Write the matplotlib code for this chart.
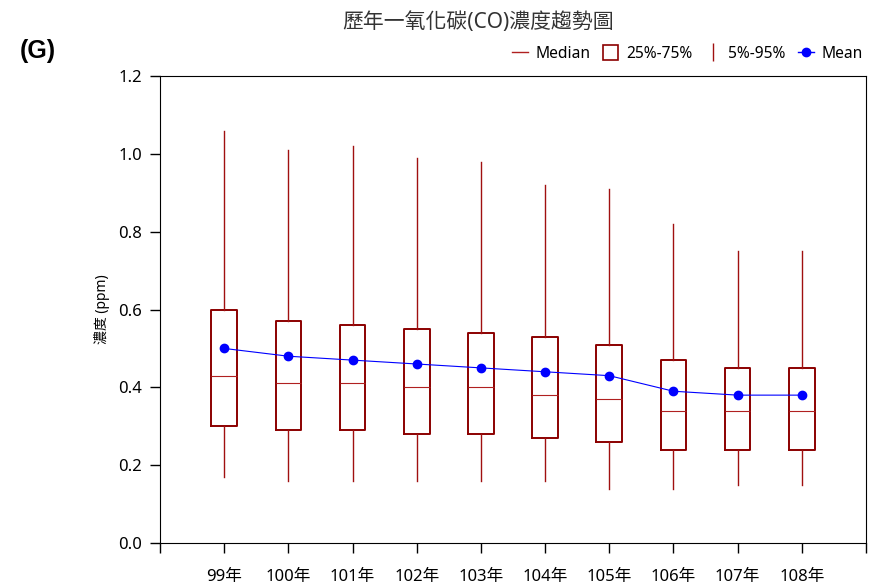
import matplotlib.pyplot as plt
from matplotlib.lines import Line2D
from matplotlib.patches import Patch

plt.rcParams['font.family'] = ['Noto Sans', 'Noto Sans CJK TC', 'DejaVu Sans']
plt.rcParams['axes.unicode_minus'] = False

# 各年度一氧化碳濃度統計 (ppm)
years = ['99年', '100年', '101年', '102年', '103年', '104年', '105年', '106年', '107年', '108年']
p95 = [1.06, 1.01, 1.02, 0.99, 0.98, 0.92, 0.91, 0.82, 0.75, 0.75]
q3 = [0.60, 0.57, 0.56, 0.55, 0.54, 0.53, 0.51, 0.47, 0.45, 0.45]
median = [0.43, 0.41, 0.41, 0.40, 0.40, 0.38, 0.37, 0.34, 0.34, 0.34]
q1 = [0.30, 0.29, 0.29, 0.28, 0.28, 0.27, 0.26, 0.24, 0.24, 0.24]
p5 = [0.17, 0.16, 0.16, 0.16, 0.16, 0.16, 0.14, 0.14, 0.15, 0.15]
mean = [0.50, 0.48, 0.47, 0.46, 0.45, 0.44, 0.43, 0.39, 0.38, 0.38]

box_color = '#8b0000'
whisker_color = '#a01010'
med_color = '#b02020'

fig = plt.figure(figsize=(8.86, 5.85), dpi=100)
ax = fig.add_axes([0.1806, 0.0718, 0.7968, 0.7982])

positions = list(range(1, len(years) + 1))
stats = []
for i in range(len(years)):
    stats.append({'med': median[i], 'q1': q1[i], 'q3': q3[i],
                  'whislo': p5[i], 'whishi': p95[i], 'fliers': []})

ax.bxp(stats, positions=positions, widths=0.4, showcaps=False, showfliers=False,
       boxprops=dict(color=box_color, linewidth=1.4),
       whiskerprops=dict(color=whisker_color, linewidth=1),
       medianprops=dict(color=med_color, linewidth=0.8))

ax.plot(positions, mean, color='blue', linewidth=0.8, marker='o', markersize=6, zorder=5)

ax.set_xlim(0, 11)
ax.set_ylim(0, 1.2)
ax.set_xticks(range(0, 12))
ax.set_xticklabels([''] + years + [''], fontsize=12)
ax.set_yticks([0.0, 0.2, 0.4, 0.6, 0.8, 1.0, 1.2])
ax.set_yticklabels(['0.0', '0.2', '0.4', '0.6', '0.8', '1.0', '1.2'], fontsize=12)
ax.tick_params(axis='x', direction='out', length=7, width=1, pad=12)
ax.tick_params(axis='y', direction='out', length=7, width=1, pad=6)
ax.set_ylabel('濃度 (ppm)', fontsize=10, labelpad=6)

fig.text(0.54, 0.962, '歷年一氧化碳(CO)濃度趨勢圖', fontsize=15, color='#333333',
         ha='center', va='center')
fig.text(0.022, 0.912, '(G)', fontsize=18, fontweight='bold', va='center',
         family='Liberation Sans')

handles = [
    Line2D([0], [0], color=med_color, linewidth=1),
    Patch(facecolor='white', edgecolor=box_color, linewidth=1.2),
    Line2D([0], [0], color=whisker_color, linestyle='none', marker='|', markersize=13),
    Line2D([0], [0], color='blue', linewidth=1, marker='o', markersize=6),
]
labels = ['Median', '25%-75%', '5%-95%', 'Mean']
ax.legend(handles, labels, ncol=4, frameon=False, loc='lower right',
          bbox_to_anchor=(1.015, 1.0), fontsize=11.2, handlelength=1.0,
          handleheight=1.1, handletextpad=0.5, columnspacing=0.8, borderaxespad=0.5)

plt.savefig('out.png', dpi=100)
